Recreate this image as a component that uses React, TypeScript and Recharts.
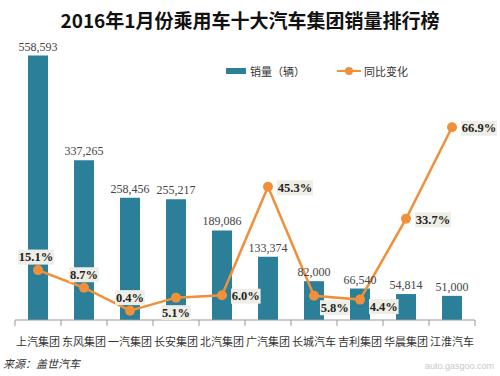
import React from "react";
import {
    ComposedChart,
    Bar,
    Line,
    XAxis,
    YAxis,
    LabelList,
} from "recharts";

const groups = ["上汽集团", "东风集团", "一汽集团", "长安集团", "北汽集团", "广汽集团", "长城汽车", "吉利集团", "华晨集团", "江淮汽车"];
const sales = [558593, 337265, 258456, 255217, 189086, 133374, 82000, 66540, 54814, 51000];
const yoy = [15.1, 8.7, 0.4, 5.1, 6.0, 45.3, 5.8, 4.4, 33.7, 66.9];

const data = groups.map((name, i) => ({ name, sales: sales[i], yoy: yoy[i] }));

const BAR = "#2b7f98";
const ORANGE = "#f0903a";
const CJK = "'Noto Sans CJK SC', 'Noto Sans', sans-serif";
const SERIF = "'Liberation Serif', 'DejaVu Serif', serif";

// where each growth label sits relative to its dot
const labelSpot = ["above", "above", "above", "below", "right", "right", "belowRight", "right", "right", "right"];

function YoyLabel(props: any) {
    const { x, y, value, index } = props;
    const text = `${Number(value).toFixed(1)}%`;
    const w = text.length * 6.4 + 4;
    const h = 15;
    let cx = x;
    let cy = y;
    const spot = labelSpot[index];
    if (spot === "above") cy = y - 13;
    else if (spot === "below") cy = y + 15;
    else if (spot === "right") { cx = x + 9 + w / 2; cy = y + 1; }
    else if (spot === "belowRight") { cx = x + 6 + w / 2; cy = y + 12; }
    if (index === 0) cx = x - 2;
    if (index === 7) cy = y + 7;
    return (
        <g>
            <rect x={cx - w / 2} y={cy - h / 2} width={w} height={h} fill="#efeee6" />
            <text x={cx} y={cy} textAnchor="middle" dominantBaseline="central" fontFamily={SERIF} fontWeight="bold" fontSize={12.5} fill="#222">
                {text}
            </text>
        </g>
    );
}

function GroupTick(props: any) {
    const { x, y, payload, index } = props;
    const half = 23;
    const axisY = y - 8;
    return (
        <g>
            <line x1={x - half} y1={axisY} x2={x - half} y2={axisY + 6} stroke="#999" />
            {index === groups.length - 1 && <line x1={x + half} y1={axisY} x2={x + half} y2={axisY + 6} stroke="#999" />}
            <text x={x} y={axisY + 26} textAnchor="middle" fontFamily={CJK} fontSize={11} fill="#333">
                {payload.value}
            </text>
        </g>
    );
}

function LegendBox() {
    return (
        <div style={{ position: "absolute", top: 63, left: 226, display: "flex", alignItems: "center", fontFamily: CJK, fontSize: 11, color: "#333" }}>
            <span style={{ display: "inline-block", width: 20, height: 6, background: BAR, marginRight: 4 }} />
            <span>销量（辆）</span>
            <svg width={24} height={10} style={{ marginLeft: 32, marginRight: 3 }}>
                <line x1={0} y1={5} x2={24} y2={5} stroke={ORANGE} strokeWidth={2} />
                <circle cx={12} cy={5} r={4} fill={ORANGE} />
            </svg>
            <span>同比变化</span>
        </div>
    );
}

export default function App() {
    return (
        <div style={{ position: "relative", width: 500, height: 376, background: "#fff", overflow: "hidden" }}>
            <style>{"body{margin:0}"}</style>
            <div style={{
                position: "absolute",
                top: 6,
                left: 0,
                width: 500,
                textAlign: "center",
                fontFamily: CJK,
                fontWeight: "bold",
                fontSize: 19,
                color: "#111",
            }}>
                2016年1月份乘用车十大汽车集团销量排行榜
            </div>
            <ComposedChart width={500} height={376} data={data} margin={{ top: 36, right: 25, bottom: 26, left: 15 }}>
                <XAxis
                    dataKey="name"
                    interval={0}
                    height={30}
                    axisLine={{ stroke: "#999" }}
                    tickLine={false}
                    tick={<GroupTick />}
                />
                <YAxis yAxisId="left" hide domain={[0, 600000]} />
                <YAxis yAxisId="right" orientation="right" hide domain={[-3, 100]} />
                <Bar yAxisId="left" dataKey="sales" fill={BAR} barSize={20} isAnimationActive={false}>
                    <LabelList
                        dataKey="sales"
                        position="top"
                        offset={5}
                        fill="#444"
                        fontFamily={SERIF}
                        fontSize={12}
                        formatter={(v: any) => Number(v).toLocaleString("en-US")}
                    />
                </Bar>
                <Line
                    yAxisId="right"
                    dataKey="yoy"
                    type="linear"
                    stroke={ORANGE}
                    strokeWidth={2.5}
                    dot={{ r: 5, fill: ORANGE, stroke: ORANGE, strokeWidth: 0 }}
                    activeDot={false}
                    isAnimationActive={false}
                >
                    <LabelList dataKey="yoy" content={<YoyLabel />} />
                </Line>
            </ComposedChart>
            <LegendBox />
            <div style={{ position: "absolute", left: 3, top: 355, fontFamily: CJK, fontStyle: "italic", fontSize: 11, color: "#333" }}>
                来源：盖世汽车
            </div>
            <div style={{ position: "absolute", right: 6, top: 361, fontFamily: "Arial, 'Liberation Sans', sans-serif", fontSize: 9, color: "#c8c8c8" }}>
                auto.gasgoo.com
            </div>
        </div>
    );
}
